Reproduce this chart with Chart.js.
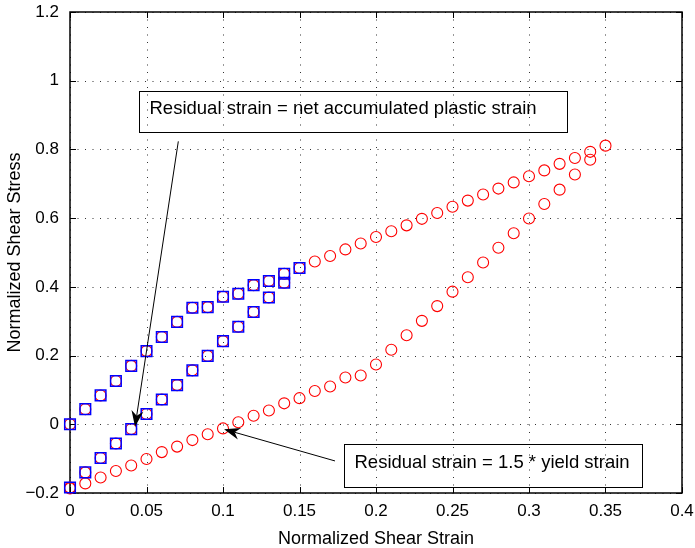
<!DOCTYPE html>
<html><head><meta charset="utf-8">
<script src="https://cdn.jsdelivr.net/npm/chart.js@4/dist/chart.umd.min.js"></script>
<style>html,body{margin:0;padding:0;background:#fff;} #wrap{width:695px;height:548px;position:relative;}</style>
</head><body><div id="wrap"><canvas id="c"></canvas></div>
<script>
// ---- data ----
const redStrainLoad = [0,0.01,0.02,0.03,0.04,0.05,0.06,0.07,0.08,0.09,0.10,0.11,0.12,0.13,0.14,0.15,0.16,0.17,0.18,0.19,0.20,0.21,0.22,0.23,0.24,0.25,0.26,0.27,0.28,0.29,0.30,0.31,0.32,0.33,0.34,0.35];
const redStressLoad = [0,0.044,0.084,0.126,0.170,0.213,0.254,0.298,0.339,0.341,0.371,0.380,0.405,0.417,0.438,0.455,0.474,0.490,0.509,0.526,0.545,0.562,0.579,0.598,0.615,0.633,0.651,0.669,0.686,0.704,0.722,0.739,0.758,0.775,0.793,0.811];
const redStrainUnload = [0.34,0.33,0.32,0.31,0.30,0.29,0.28,0.27,0.26,0.25,0.24,0.23,0.22,0.21,0.20,0.19,0.18,0.17,0.16,0.15,0.14,0.13,0.12,0.11,0.10,0.09,0.08,0.07,0.06,0.05,0.04,0.03,0.02,0.01,0];
const redStressUnload = [0.770,0.727,0.683,0.641,0.599,0.556,0.514,0.471,0.428,0.386,0.344,0.301,0.259,0.217,0.174,0.142,0.136,0.110,0.097,0.076,0.061,0.040,0.025,0.006,-0.012,-0.029,-0.046,-0.065,-0.081,-0.101,-0.120,-0.136,-0.155,-0.172,-0.187];
const redStrainSmall = [0.14,0.13,0.12,0.11,0.10,0.09,0.08,0.07,0.06,0.05,0.04,0.03,0.02,0.01,0];
const redStressSmall = [0.412,0.369,0.327,0.284,0.242,0.199,0.157,0.114,0.072,0.030,-0.014,-0.056,-0.098,-0.140,-0.184];

const blueStrainLoad = [0,0.01,0.02,0.03,0.04,0.05,0.06,0.07,0.08,0.09,0.10,0.11,0.12,0.13,0.14,0.15];
const blueStressLoad = [0,0.044,0.084,0.126,0.170,0.213,0.254,0.298,0.339,0.341,0.371,0.380,0.405,0.417,0.438,0.455];
const blueStrainUnload = [0.14,0.13,0.12,0.11,0.10,0.09,0.08,0.07,0.06,0.05,0.04,0.03,0.02,0.01,0];
const blueStressUnload = [0.412,0.369,0.327,0.284,0.242,0.199,0.157,0.114,0.072,0.030,-0.014,-0.056,-0.098,-0.140,-0.184];

const xTickValues = [0,0.05,0.1,0.15,0.2,0.25,0.3,0.35,0.4];
const xTickLabels = ['0','0.05','0.1','0.15','0.2','0.25','0.3','0.35','0.4'];
const yTickValues = [-0.2,0,0.2,0.4,0.6,0.8,1,1.2];
const yTickLabels = ['\u22120.2','0','0.2','0.4','0.6','0.8','1','1.2'];

const xTitle = 'Normalized Shear Strain';
const yTitle = 'Normalized Shear Stress';

const noteBoxes = [
  {text:'Residual strain = net accumulated plastic strain', x0:0.0451, y0:0.970, x1:0.3248, y1:0.852},
  {text:'Residual strain = 1.5 * yield strain', x0:0.1793, y0:-0.0581, x1:0.3741, y1:-0.1814}
];
const noteArrows = [
  {fromX:0.0708, fromY:0.8235, toX:0.0425, toY:-0.007},
  {fromX:0.1732, fromY:-0.1067, toX:0.1007, toY:-0.0145}
];

// ---- build ----
const zip = (xs, ys) => xs.map((v,i)=>({x:v, y:ys[i]}));
const FONT = '"Liberation Sans", Arial, Helvetica, sans-serif';

const redPts = zip(redStrainLoad, redStressLoad).concat(zip(redStrainUnload, redStressUnload), zip(redStrainSmall, redStressSmall));
const bluePts = zip(blueStrainLoad, blueStressLoad).concat(zip(blueStrainUnload, blueStressUnload));

const framePlugin = {
  id: 'frame',
  beforeDatasetsDraw(chart){
    const {ctx, chartArea:{left,right,top,bottom}, scales:{x,y}} = chart;
    ctx.save();
    // dotted grid
    ctx.strokeStyle = '#333';
    ctx.lineWidth = 1;
    ctx.setLineDash([1,6.5]);
    xTickValues.forEach(v=>{
      const px = Math.round(x.getPixelForValue(v)) + 0.5;
      ctx.beginPath(); ctx.moveTo(px, bottom); ctx.lineTo(px, top); ctx.stroke();
    });
    yTickValues.forEach(v=>{
      const py = Math.round(y.getPixelForValue(v)) + 0.5;
      ctx.beginPath(); ctx.moveTo(left, py); ctx.lineTo(right, py); ctx.stroke();
    });
    ctx.setLineDash([]);
    // inward ticks
    ctx.strokeStyle = '#000';
    ctx.lineWidth = 1;
    const tl = 6;
    xTickValues.forEach(v=>{
      const px = Math.round(x.getPixelForValue(v)) + 0.5;
      ctx.beginPath(); ctx.moveTo(px, bottom); ctx.lineTo(px, bottom - tl); ctx.stroke();
      ctx.beginPath(); ctx.moveTo(px, top); ctx.lineTo(px, top + tl); ctx.stroke();
    });
    yTickValues.forEach(v=>{
      const py = Math.round(y.getPixelForValue(v)) + 0.5;
      ctx.beginPath(); ctx.moveTo(left, py); ctx.lineTo(left + tl, py); ctx.stroke();
      ctx.beginPath(); ctx.moveTo(right, py); ctx.lineTo(right - tl, py); ctx.stroke();
    });
    // box
    ctx.lineWidth = 1.5;
    ctx.strokeRect(left, top, right-left, bottom-top);
    ctx.restore();
  },
  afterDatasetsDraw(chart){
    const {ctx, scales:{x,y}} = chart;
    ctx.save();
    // boxes
    noteBoxes.forEach(b=>{
      const l = Math.round(x.getPixelForValue(b.x0))+0.5, r = Math.round(x.getPixelForValue(b.x1))+0.5;
      const t = Math.round(y.getPixelForValue(b.y0))+0.5, bt = Math.round(y.getPixelForValue(b.y1))+0.5;
      ctx.strokeStyle = '#000'; ctx.lineWidth = 1;
      ctx.strokeRect(l, t, r-l, bt-t);
      ctx.fillStyle = '#000';
      ctx.font = '18.5px ' + FONT;
      ctx.textBaseline = 'middle'; ctx.textAlign = 'left';
      ctx.fillText(b.text, l + 10, (t+bt)/2 - 3);
    });
    // arrows
    noteArrows.forEach(a=>{
      const x1 = x.getPixelForValue(a.fromX), y1 = y.getPixelForValue(a.fromY);
      const x2 = x.getPixelForValue(a.toX), y2 = y.getPixelForValue(a.toY);
      const ang = Math.atan2(y2-y1, x2-x1);
      const L = 16, W = 6, notch = 11;
      ctx.strokeStyle = '#000'; ctx.lineWidth = 1;
      ctx.beginPath(); ctx.moveTo(x1,y1);
      ctx.lineTo(x2 - Math.cos(ang)*notch, y2 - Math.sin(ang)*notch); ctx.stroke();
      const bx = x2 - Math.cos(ang)*L, by = y2 - Math.sin(ang)*L;
      const nx = -Math.sin(ang), ny = Math.cos(ang);
      ctx.fillStyle = '#000';
      ctx.beginPath();
      ctx.moveTo(x2, y2);
      ctx.lineTo(bx + nx*W, by + ny*W);
      ctx.lineTo(x2 - Math.cos(ang)*notch, y2 - Math.sin(ang)*notch);
      ctx.lineTo(bx - nx*W, by - ny*W);
      ctx.closePath(); ctx.fill();
    });
    ctx.restore();
  }
};

function zeroPad(s){ s.paddingTop = 0; s.paddingBottom = 0; s.paddingLeft = 0; s.paddingRight = 0; }

new Chart(document.getElementById('c'), {
  type: 'scatter',
  data: {
    datasets: [
      {label:'blue', data: bluePts, pointStyle:'rect', pointRadius:7.5, pointBorderWidth:1.5,
       borderColor:'rgb(0,0,255)', backgroundColor:'rgba(0,0,0,0)', pointBorderColor:'rgb(0,0,255)', pointBackgroundColor:'rgba(0,0,0,0)', showLine:false, clip:false},
      {label:'red', data: redPts, pointStyle:'circle', pointRadius:5.5, pointBorderWidth:1.1,
       borderColor:'rgb(255,0,0)', backgroundColor:'rgba(0,0,0,0)', pointBorderColor:'rgb(255,0,0)', pointBackgroundColor:'rgba(0,0,0,0)', showLine:false, clip:false}
    ]
  },
  options: {
    responsive: true, maintainAspectRatio: false, animation: false,
    layout: {padding: {top:12, right:13, left:0, bottom:0}},
    plugins: {legend:{display:false}, tooltip:{enabled:false}},
    scales: {
      x: {
        type:'linear', min:0, max:0.4,
        afterFit(s){ s.height = 55; zeroPad(s); },
        afterBuildTicks(s){ s.ticks = xTickValues.map(v=>({value:v})); },
        grid:{display:false, drawTicks:false}, border:{display:false},
        ticks:{color:'#000', padding:8, maxRotation:0, autoSkip:false, font:{family:FONT, size:17},
               callback:(v,i)=>xTickLabels[i]},
        title:{display:true, text:xTitle, color:'#000', font:{family:FONT, size:18}, padding:{top:0,bottom:-2}}
      },
      y: {
        type:'linear', min:-0.2, max:1.2,
        afterFit(s){ s.width = 70; zeroPad(s); },
        afterBuildTicks(s){ s.ticks = yTickValues.map(v=>({value:v})); },
        grid:{display:false, drawTicks:false}, border:{display:false},
        ticks:{color:'#000', padding:11, autoSkip:false, font:{family:FONT, size:17},
               callback:(v,i)=>yTickLabels[i]},
        title:{display:true, text:yTitle, color:'#000', font:{family:FONT, size:18}, padding:{top:4,bottom:0}}
      }
    }
  },
  plugins:[framePlugin]
});
</script></body></html>
